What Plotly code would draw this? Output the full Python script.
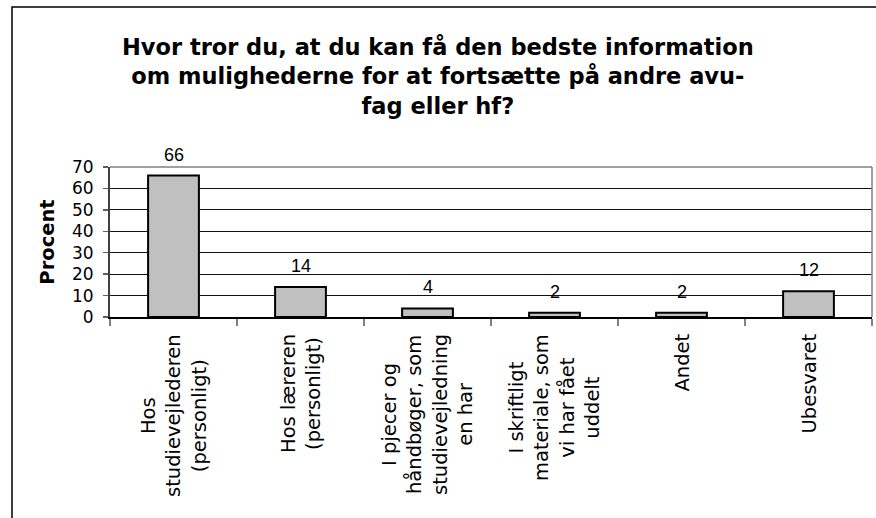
import plotly.graph_objects as go

categories = ["Hos<br>studievejlederen<br>(personligt)",
              "Hos læreren<br>(personligt)",
              "I pjecer og<br>håndbøger, som<br>studievejledning<br>en har",
              "I skriftligt<br>materiale, som<br>vi har fået<br>uddelt",
              "Andet",
              "Ubesvaret"]
values = [66, 14, 4, 2, 2, 12]
y_ticks = [0, 10, 20, 30, 40, 50, 60, 70]
title_text = "Hvor tror du, at du kan få den bedste information<br>om mulighederne for at fortsætte på andre avu-<br>fag eller hf?"

W, H = 876, 518
L, R, T, B = 110, 4, 167, 201
pw, ph = W - L - R, H - T - B


def px_x(px):
    return (px - L) / pw


def px_y(py):
    return (T + ph - py) / ph


fig = go.Figure()
fig.add_trace(go.Bar(
    x=list(range(len(categories))), y=values, width=0.4,
    marker=dict(color="#C0C0C0", line=dict(color="#000000", width=2)),
    hoverinfo="skip"))

for i, (c, v) in enumerate(zip(categories, values)):
    fig.add_annotation(x=i, y=v, xref="x", yref="y", text=str(v), showarrow=False,
                       yanchor="bottom", yshift=9,
                       font=dict(family="Liberation Sans, Arial", size=18, color="#000"))
    fig.add_annotation(x=i, y=0, xref="x", yref="paper", text=c, showarrow=False,
                       textangle=-90, yanchor="top", xanchor="center", align="center",
                       yshift=-15,
                       font=dict(family="DejaVu Sans", size=19.5, color="#000"))

# title as centred annotation
fig.add_annotation(x=438, y=77, xref="paper", yref="paper", text=title_text, showarrow=False)
fig.layout.annotations[-1].update(x=px_x(438), y=px_y(77), xanchor="center", yanchor="middle",
                                  align="center",
                                  font=dict(family="DejaVu Sans", size=22.5, color="#000",
                                            weight="bold"))

# outer chart border (left and top visible)
fig.add_shape(type="rect", xref="paper", yref="paper",
              x0=px_x(12), x1=px_x(W + 20), y0=px_y(H + 20), y1=px_y(7),
              line=dict(color="#000", width=1.5), fillcolor="rgba(0,0,0,0)", layer="above")
# plot area top and right border
fig.add_shape(type="line", xref="paper", yref="paper", x0=0, x1=1, y0=1, y1=1,
              line=dict(color="#808080", width=1.5))
fig.add_shape(type="line", xref="paper", yref="paper", x0=1, x1=1, y0=0, y1=1,
              line=dict(color="#808080", width=1.5))

fig.update_layout(
    width=W, height=H,
    margin=dict(l=L, r=R, t=T, b=B),
    paper_bgcolor="white", plot_bgcolor="white",
    showlegend=False,
    xaxis=dict(range=[-0.5, len(categories) - 0.5], tickvals=[i - 0.5 for i in range(len(categories) + 1)],
               showticklabels=False, ticks="outside", ticklen=7, tickcolor="#808080", tickwidth=1.5,
               showgrid=False, zeroline=False, showline=True, linecolor="#000", linewidth=1.5),
    yaxis=dict(range=[0, 70], tickvals=y_ticks, ticks="outside", ticklen=5, tickcolor="#606060",
               tickwidth=1.5, ticklabelstandoff=6,
               tickfont=dict(family="DejaVu Sans", size=17, color="#000"),
               showgrid=True, gridcolor="#111", gridwidth=1, zeroline=False,
               showline=True, linecolor="#404040", linewidth=2,
               title=dict(text="<b>Procent</b>", standoff=12,
                          font=dict(family="DejaVu Sans", size=19.5, color="#000"))),
)
fig.write_html("out.html", config={"displayModeBar": False, "staticPlot": True},
               post_script="document.body.style.margin='0';document.body.style.overflow='hidden';"
                           "document.documentElement.style.overflow='hidden';")
